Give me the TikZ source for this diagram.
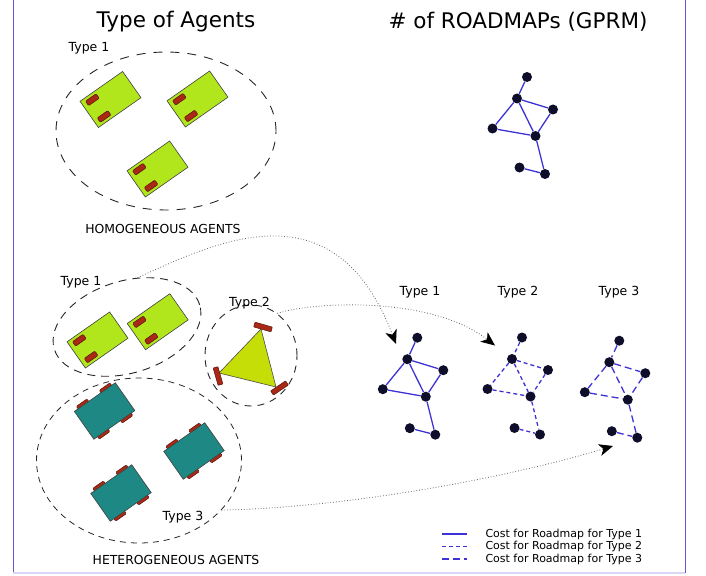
\documentclass[tikz,border=0pt]{standalone}
\usepackage{fontspec}
\setmainfont{DejaVu Sans}
\usetikzlibrary{shapes.geometric,arrows.meta}
\usepackage{xcolor}

\definecolor{agentgreen}{RGB}{178,230,28}
\definecolor{agentyellow}{RGB}{198,222,8}
\definecolor{agentteal}{RGB}{30,136,132}
\definecolor{wheelred}{RGB}{170,40,22}
\definecolor{wheeldark}{RGB}{85,20,10}
\definecolor{roadblue}{RGB}{62,50,215}
\definecolor{wpdark}{RGB}{14,14,42}
\definecolor{framecol}{RGB}{105,85,205}
\definecolor{framelight}{RGB}{218,212,246}

\begin{document}
\begin{tikzpicture}[x=1pt, y=-1pt,
    heading/.style={font=\fontsize{21.5}{25}\selectfont},
    tag/.style={font=\fontsize{12.5}{15}\selectfont},
    caption/.style={font=\fontsize{12.4}{14}\selectfont},
    legendtext/.style={font=\fontsize{11}{13}\selectfont, anchor=west},
    group/.style={ellipse, draw=black!85, line width=0.9pt, dash pattern=on 8pt off 7pt, inner sep=0},
    body1/.style={draw=black!75, line width=0.6pt, fill=agentgreen},
    body3/.style={draw=black!75, line width=0.6pt, fill=agentteal},
    wheel/.style={draw=wheeldark, line width=0.5pt, fill=wheelred, rounded corners=1pt},
    wp/.style={circle, fill=wpdark, inner sep=0, minimum size=10pt},
    cost1/.style={draw=roadblue, line width=1.3pt},
    cost2/.style={cost1, dash pattern=on 4pt off 3pt},
    cost3/.style={cost1, dash pattern=on 7pt off 4pt},
    flow/.style={draw=black!60, line width=0.8pt, dotted, -{Stealth[length=14pt, width=12pt, inset=4pt, color=black]}}
]
    \useasboundingbox (0,0) rectangle (706,575);

    % frame
    \draw[framecol, line width=1pt] (13,0) -- (13,573);
    \draw[framecol, line width=1pt] (685,0) -- (685,573);
    \draw[framelight, line width=2pt] (13,573) -- (685,573);

    % headings
    \node[heading] (headA) at (176,22) {Type of Agents};
    \node[heading] (headR) at (518,22) {\# of ROADMAPs (GPRM)};

    % homogeneous team
    \node[group, minimum width=220pt, minimum height=158pt, dash pattern=on 9pt off 8pt] (homog) at (166,131) {};
    \node[tag] (homT1) at (89,48) {Type 1};
    \node[caption] (homCap) at (163,229) {HOMOGENEOUS AGENTS};

    % heterogeneous team
    \node[group, minimum width=152pt, minimum height=92pt, rotate=17, dash pattern=on 8pt off 6pt] (grp1) at (127,327) {};
    \node[group, minimum width=92pt, minimum height=101pt, dash pattern=on 7pt off 6pt] (grp2) at (251,355.5) {};
    \node[group, minimum width=205pt, minimum height=165pt, line width=0.8pt, dash pattern=on 6pt off 5pt] (grp3) at (139,460.5) {};
    \node[tag] (hetT1) at (81,282) {Type 1};
    \node[tag] (hetT2) at (249.5,303) {Type 2};
    \node[tag] (hetT3) at (183,517) {Type 3};
    \node[caption] (hetCap) at (176,560) {HETEROGENEOUS AGENTS};

    % type 1 agents (two wheels at the rear)
    \foreach \cx/\cy in {110.5/99.5, 197.5/99, 157.5/169, 97.5/340, 157.7/321.7} {
        \begin{scope}[shift={(\cx,\cy)}, rotate=35]
            \draw[body1] (-26,-16) rectangle (26,16);
            \draw[wheel] (-21.5,-13) rectangle (-8.5,-7.5);
            \draw[wheel] (-21.5,7.5) rectangle (-8.5,13);
        \end{scope}
    }

    % type 2 agent (three omni wheels)
    \draw[draw=black!70, line width=0.6pt, fill=agentyellow] (261,329) -- (219,373) -- (276,387) -- cycle;
    \node[wheel, rounded corners=0.5pt, minimum width=18pt, minimum height=5pt, inner sep=0, rotate=-16] (w2a) at (263,327) {};
    \node[wheel, rounded corners=0.5pt, minimum width=18pt, minimum height=5pt, inner sep=0, rotate=-74] (w2b) at (218,376) {};
    \node[wheel, rounded corners=0.5pt, minimum width=18pt, minimum height=5pt, inner sep=0, rotate=34] (w2c) at (279.5,388) {};

    % type 3 agents (four wheels)
    \foreach \cx/\cy in {104.6/411, 194/451, 121/493} {
        \begin{scope}[shift={(\cx,\cy)}, rotate=35]
            \draw[wheel] (-20.5,-20) rectangle (-7.5,-14);
            \draw[wheel] (7.5,-20) rectangle (20.5,-14);
            \draw[wheel] (-20.5,14) rectangle (-7.5,20);
            \draw[wheel] (7.5,14) rectangle (20.5,20);
            \draw[body3] (-25,-17) rectangle (25,17);
        \end{scope}
    }

    % roadmaps: r = shared one, a/b/c = one per type
    \foreach \g/\ox/\oy/\edge in {r/527/77/cost1, a/417.3/337.7/cost1, b/522/337.5/cost2, c/619.3/340.7/cost3} {
        \foreach \i/\dx/\dy in {1/0/0, 2/-10/21.5, 3/26/32.5, 4/-34.5/51.5, 5/8.5/59, 6/-7.5/90.5, 7/18/97}
            \node[wp] (\g\i) at (\ox+\dx,\oy+\dy) {};
        \foreach \s/\t in {1/2, 2/3, 2/4, 2/5, 3/5, 4/5, 5/7, 6/7}
            \draw[\edge] (\g\s) -- (\g\t);
    }
    \node[tag] (rmT1) at (420,292) {Type 1};
    \node[tag] (rmT2) at (518,292) {Type 2};
    \node[tag] (rmT3) at (619,292) {Type 3};

    % assignment of agents to roadmaps
    \coordinate (in1) at (396,344);
    \coordinate (in2) at (495,345.5);
    \coordinate (in3) at (613,446);
    \draw[flow] (grp1.61) .. controls (220,240) and (335,185) .. (in1);
    \draw[flow] (grp2.58) .. controls (310,302) and (430,295) .. (in2);
    \draw[flow] (grp3.-31) .. controls (340,508) and (500,480) .. (in3);

    % legend
    \draw[cost1] (442,534) -- (467,534);
    \draw[cost2] (442,546.5) -- (467,546.5);
    \draw[cost3] (442,559) -- (467,559);
    \node[legendtext] (leg1) at (482,534) {Cost for Roadmap for Type 1};
    \node[legendtext] (leg2) at (482,546.5) {Cost for Roadmap for Type 2};
    \node[legendtext] (leg3) at (482,559) {Cost for Roadmap for Type 3};
\end{tikzpicture}
\end{document}
